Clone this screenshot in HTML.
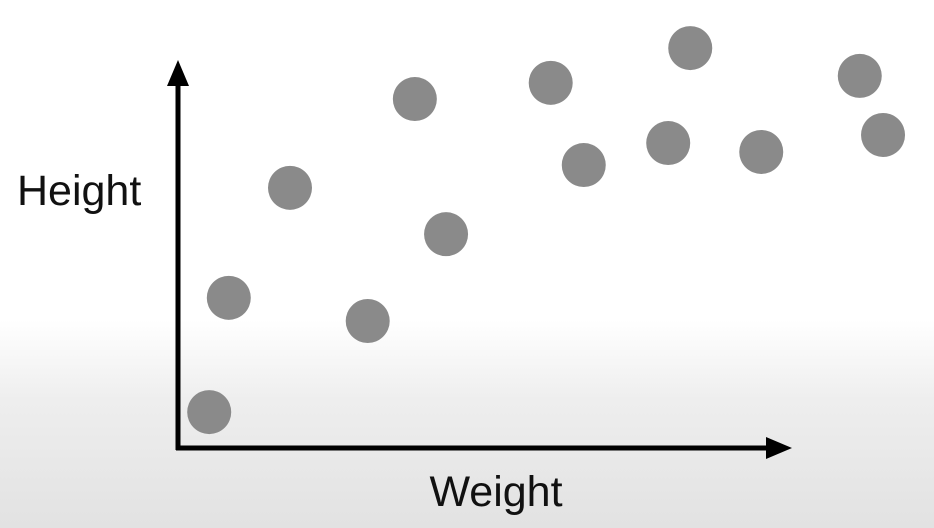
<!DOCTYPE html>
<html><head><meta charset="utf-8"><style>
html,body{margin:0;padding:0;width:934px;height:528px;overflow:hidden}
body{background:linear-gradient(to bottom,#ffffff 0px,#ffffff 320px,#eeeeee 400px,#e2e2e2 528px)}
svg{display:block}
text{font-family:"Liberation Sans",sans-serif;fill:#111}
</style></head><body>
<svg id="chart" width="934" height="528" viewBox="0 0 934 528">
  <g id="axes">
    <line x1="178" y1="450" x2="178" y2="80" stroke="#000" stroke-width="5"/>
    <polygon points="178,60 167,86 189,86" fill="#000"/>
    <line x1="176" y1="448" x2="770" y2="448" stroke="#000" stroke-width="5"/>
    <polygon points="792,448 766,437 766,459" fill="#000"/>
    <text x="17" y="205" font-size="43">Height</text>
    <text x="496" y="506" font-size="43" text-anchor="middle">Weight</text>
  </g>
  <g id="points"></g>
</svg>
<script>
const weightValues = [5.1, 8.3, 18.3, 31.0, 38.7, 43.8, 60.9, 66.3, 80.1, 83.7, 95.3, 111.4, 115.2];
const heightValues = [9.3, 38.9, 67.4, 32.9, 90.4, 55.4, 94.6, 73.3, 79.0, 103.6, 76.7, 96.4, 81.1];
function xScale(v){return 178 + v*6.12;}
function yScale(v){return 448 - v*3.86;}
const g = document.getElementById('points');
for (let i = 0; i < weightValues.length; i++) {
  const c = document.createElementNS('http://www.w3.org/2000/svg','circle');
  c.setAttribute('cx', xScale(weightValues[i]));
  c.setAttribute('cy', yScale(heightValues[i]));
  c.setAttribute('r', 22);
  c.setAttribute('fill', '#8a8a8a');
  
  
  g.appendChild(c);
}
</script>
</body></html>
